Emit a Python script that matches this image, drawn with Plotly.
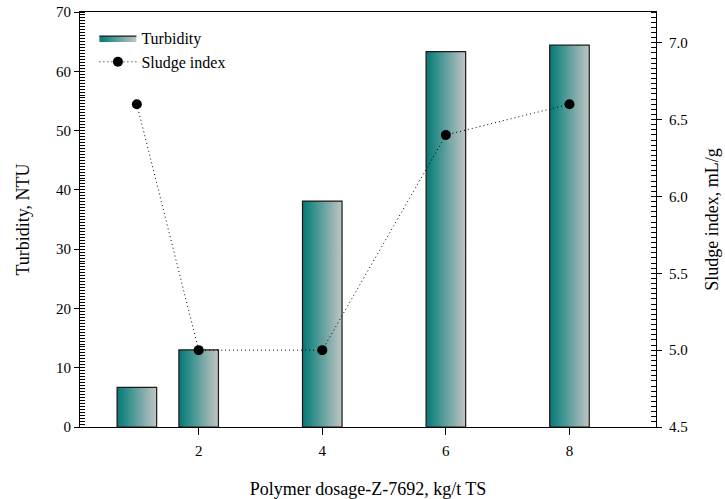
import plotly.graph_objects as go

dosage = [1, 2, 4, 6, 8]
turbidity = [6.7, 13.0, 38.1, 63.3, 64.4]
sludge_index = [6.6, 5.0, 5.0, 6.4, 6.6]
x_ticks = [2, 4, 6, 8]
left_ticks = [0, 10, 20, 30, 40, 50, 60, 70]
right_ticks = [4.5, 5.0, 5.5, 6.0, 6.5, 7.0]

BAR_W = 0.64
FONT = "Liberation Serif"

fig = go.Figure()

for i, (xc, v) in enumerate(zip(dosage, turbidity)):
    x0, x1 = xc - BAR_W / 2, xc + BAR_W / 2
    fig.add_trace(go.Scatter(
        x=[x0, x1, x1, x0, x0], y=[0, 0, v, v, 0],
        mode="lines", fill="toself",
        fillgradient=dict(type="horizontal",
                          colorscale=[[0, "#007a76"], [1, "#c2c4c4"]]),
        line=dict(color="#1a1a1a", width=1.2),
        name="Turbidity", legendgroup="t", showlegend=(i == 0),
        hoverinfo="skip",
    ))

fig.add_trace(go.Scatter(
    x=dosage, y=sludge_index, yaxis="y2",
    mode="lines+markers", name="Sludge index",
    line=dict(color="black", width=1, dash="1px,3px"),
    marker=dict(color="black", size=10),
))

axis_common = dict(
    showline=True, linecolor="black", linewidth=1,
    showgrid=False, zeroline=False, automargin=False,
    tickfont=dict(family=FONT, size=15, color="black"),
    ticks="outside", tickcolor="black",
)

fig.update_layout(
    width=725, height=499,
    margin=dict(l=80, r=69, t=12, b=72),
    plot_bgcolor="white", paper_bgcolor="white",
    font=dict(family=FONT, size=15, color="black"),
    xaxis=dict(
        **axis_common, range=[0.08, 9.4], tickvals=x_ticks, mirror=True,
        ticklen=7, ticklabelstandoff=3,
        title=dict(text="Polymer dosage-Z-7692, kg/t TS",
                   font=dict(family=FONT, size=18), standoff=24),
    ),
    yaxis=dict(
        **axis_common, range=[0, 70], tickvals=left_ticks, ticklen=5,
        minor=dict(ticks="inside", dtick=0.5, ticklen=5, tickcolor="black"),
        title=dict(text="Turbidity, NTU", font=dict(family=FONT, size=18),
                   standoff=21),
    ),
    yaxis2=dict(
        **axis_common, overlaying="y", side="right", anchor="x",
        range=[4.5, 7.2], tickvals=right_ticks, tickformat=".1f", ticklen=5,
        ticklabelstandoff=4,
        minor=dict(ticks="inside", tick0=4.5, dtick=1 / 30, ticklen=5,
                   tickcolor="black"),
        title=dict(text="Sludge index, mL/g", font=dict(family=FONT, size=18),
                   standoff=18),
    ),
    legend=dict(
        x=0.025, y=0.978, xanchor="left", yanchor="top",
        bgcolor="rgba(0,0,0,0)", font=dict(family=FONT, size=16),
        tracegroupgap=0, itemwidth=37,
    ),
    showlegend=True,
)

fig.write_html("out.html",
               config={"displayModeBar": False},
               post_script="document.body.style.margin='0';")
